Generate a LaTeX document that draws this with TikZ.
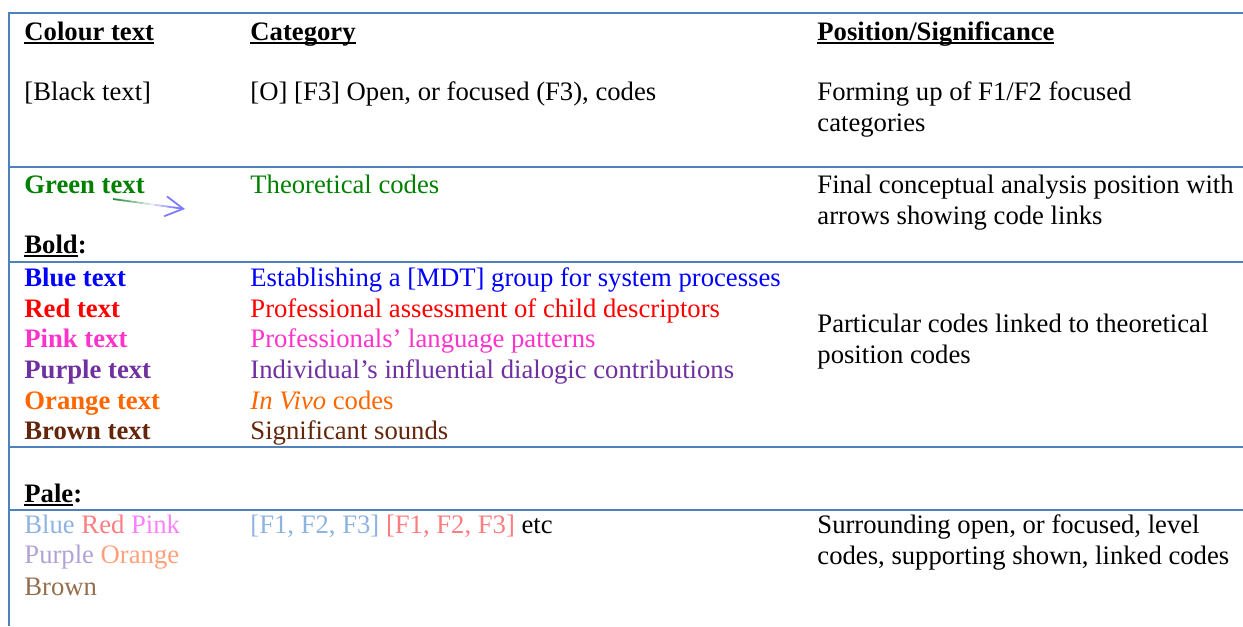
\documentclass[tikz,border=0pt]{standalone}
\usepackage{fontspec}
\setmainfont{Liberation Serif}
\usepackage{tikz}
\usetikzlibrary{arrows.meta,calc}
\usepackage{xcolor}
\definecolor{tblline}{RGB}{79,129,189}
\definecolor{cdgreen}{RGB}{0,128,0}
\definecolor{cdblue}{RGB}{0,0,255}
\definecolor{cdred}{RGB}{255,0,0}
\definecolor{cdpink}{RGB}{255,51,204}
\definecolor{cdpurple}{RGB}{112,48,160}
\definecolor{cdorange}{RGB}{255,102,0}
\definecolor{cdbrown}{RGB}{99,38,10}
\definecolor{paleblue}{RGB}{141,179,226}
\definecolor{palered}{RGB}{255,124,128}
\definecolor{palepink}{RGB}{255,128,255}
\definecolor{palepurple}{RGB}{178,161,214}
\definecolor{paleorange}{RGB}{255,160,122}
\definecolor{palebrown}{RGB}{148,110,76}
\definecolor{arrgreen}{RGB}{40,140,60}
\definecolor{arrblue}{RGB}{90,90,255}
\newcommand{\ulhead}[1]{\setbox0\hbox{#1}\rlap{\rule[-1.9pt]{\wd0}{1.1pt}}\box0}
\tikzstyle{rule} = [line width=0.9pt, color=tblline]
\tikzstyle{cell} = [anchor=base west, inner sep=0pt, font=\fontsize{12}{13.8}\selectfont]
\tikzstyle{boldcell} = [cell, font=\fontsize{12}{13.8}\selectfont\bfseries]
\tikzstyle{twoline} = [cell, align=left]
\begin{document}
\begin{tikzpicture}[x=0.45pt, y=-0.45pt]
\useasboundingbox (0,0) rectangle (1243,626);

% Table rules
\draw[rule] (9,626) -- (9,13) -- (1243,13);
\foreach \y in {167,262,447,510}
  \draw[rule] (9,\y) -- (1243,\y);

% Header row
\node (hcolour) [boldcell] at (24,40) {\ulhead{Colour text}};
\node (hcat) [boldcell] at (250,40) {\ulhead{Category}};
\node (hpos) [boldcell] at (817,40) {\ulhead{Position/Significance}};

% Black text (two-line cells sit on their last line)
\node (black) [cell] at (24,100) {[Black text]};
\node (blackcat) [cell] at (250,100) {[O] [F3] Open, or focused (F3), codes};
\node (blackpos) [twoline] at (817,131) {Forming up of F1/F2 focused\\categories};

% Green text
\node (green) [boldcell, cdgreen] at (24,193) {Green text};
\node (greencat) [cell, cdgreen] at (250,193) {Theoretical codes};
\node (greenpos) [twoline] at (817,224) {Final conceptual analysis position with\\arrows showing code links};
\coordinate (arrS) at (113,199);
\coordinate (arrE) at (185,209);
\foreach \i in {0,...,5}
  \draw[line width=0.8pt, color=arrgreen!\fpeval{100-\i*15}!white]
    ($(arrS)!\i/12!(arrE)$) -- ($(arrS)!\i/12+1/12!(arrE)$);
\foreach \i in {6,...,10}
  \draw[line width=0.8pt, color=arrblue!\fpeval{(\i-5)*16}!white]
    ($(arrS)!\i/12!(arrE)$) -- ($(arrS)!\i/12+1/12!(arrE)$);
\draw[line width=0.8pt, arrblue!80!white, -{Straight Barb[length=8pt,width=9pt]}]
  ($(arrS)!11/12!(arrE)$) -- (arrE);

% Bold
\node (bold) [boldcell] at (24,253) {\ulhead{Bold}:};
\node (blue) [boldcell, cdblue] at (24,286) {Blue text};
\node (red) [boldcell, cdred] at (24,317) {Red text};
\node (pink) [boldcell, cdpink] at (24,347) {Pink text};
\node (purple) [boldcell, cdpurple] at (24,378) {Purple text};
\node (orange) [boldcell, cdorange] at (24,409) {Orange text};
\node (brown) [boldcell, cdbrown] at (24,439) {Brown text};
\node (bluecat) [cell, cdblue] at (250,286) {Establishing a [MDT] group for system processes};
\node (redcat) [cell, cdred] at (250,317) {Professional assessment of child descriptors};
\node (pinkcat) [cell, cdpink] at (250,347) {Professionals’ language patterns};
\node (purplecat) [cell, cdpurple] at (250,378) {Individual’s influential dialogic contributions};
\node (orangecat) [cell, cdorange] at (250,409) {\textit{In Vivo} codes};
\node (browncat) [cell, cdbrown] at (250,439) {Significant sounds};
\node (boldpos) [twoline] at (817,363) {Particular codes linked to theoretical\\position codes};

% Pale
\node (pale) [boldcell] at (24,502) {\ulhead{Pale}:};
\node (pale1) [cell] at (24,533) {\textcolor{paleblue}{Blue} \textcolor{palered}{Red} \textcolor{palepink}{Pink}};
\node (pale2) [cell] at (24,563) {\textcolor{palepurple}{Purple} \textcolor{paleorange}{Orange}};
\node (pale3) [cell, palebrown] at (24,595) {Brown};
\node (palecat) [cell] at (250,533) {\textcolor{paleblue}{[F1, F2, F3]} \textcolor{palered}{[F1, F2, F3]} etc};
\node (palepos) [twoline] at (817,564) {Surrounding open, or focused, level\\codes, supporting shown, linked codes};
\end{tikzpicture}
\end{document}
